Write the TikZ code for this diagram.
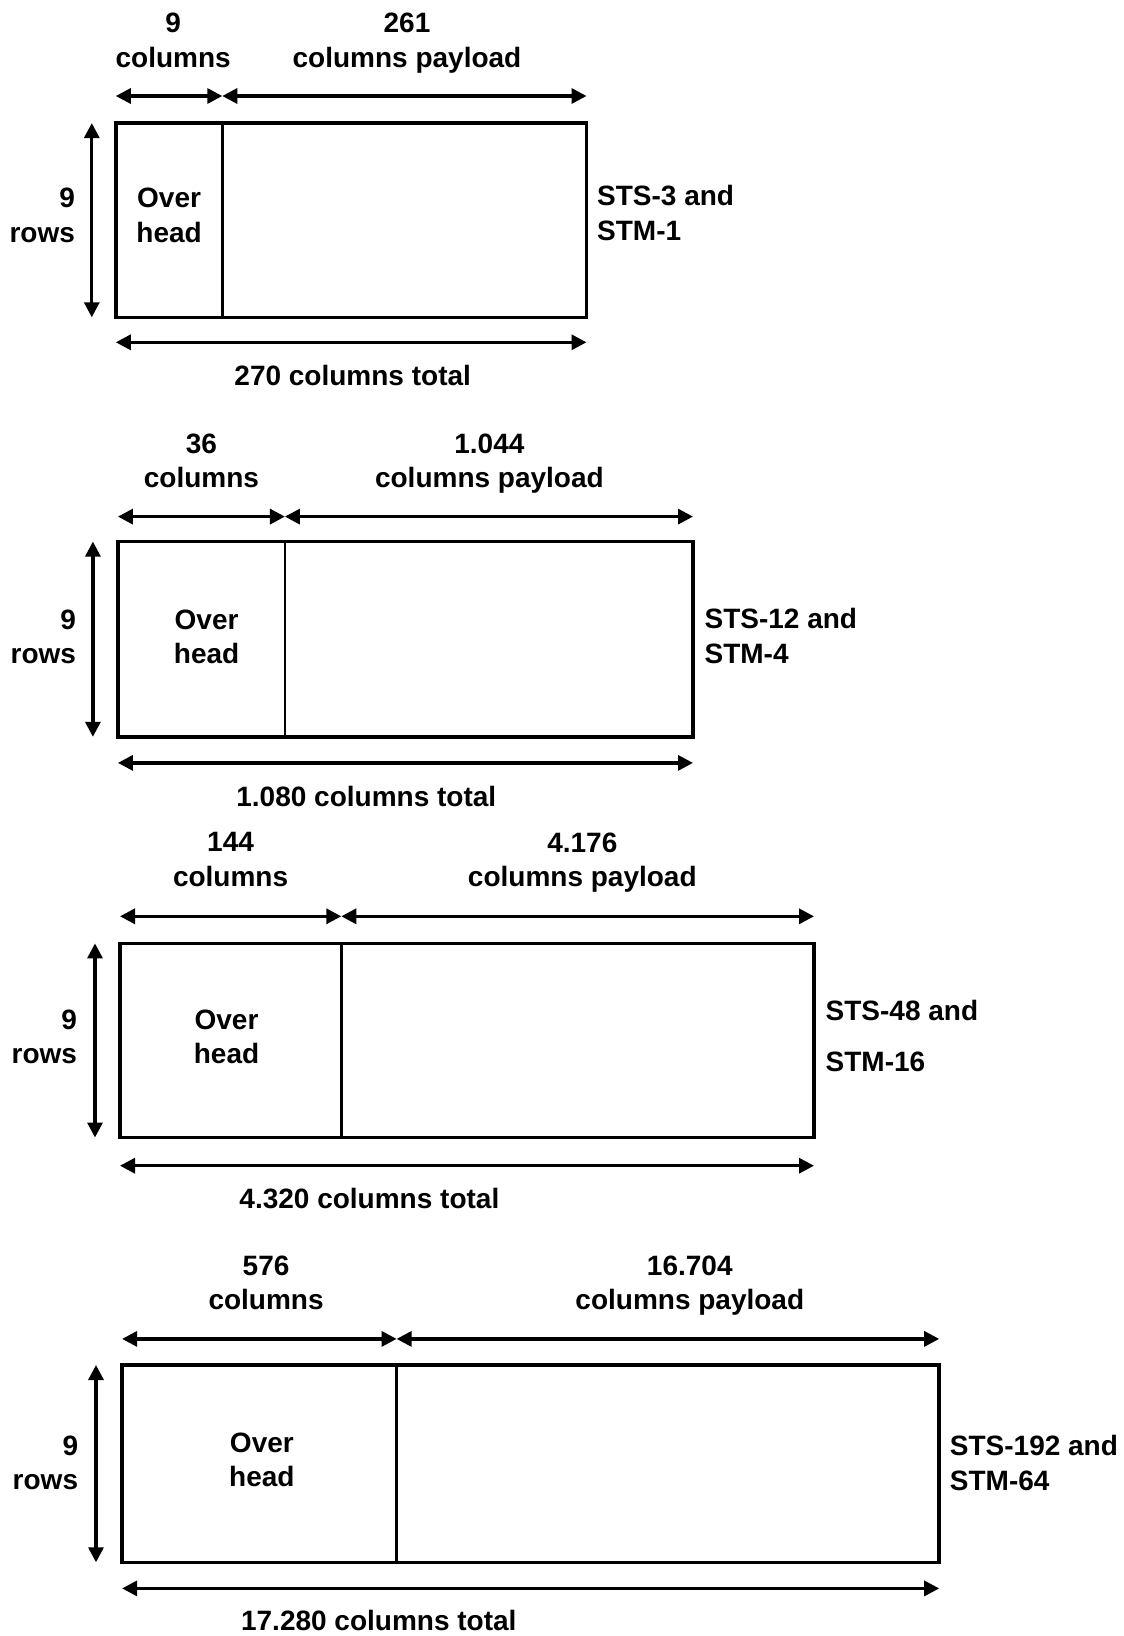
\documentclass[tikz,border=0pt]{standalone}
\usepackage{fontspec}
\setmainfont{Liberation Sans}
\usetikzlibrary{arrows.meta}
\begin{document}
\begin{tikzpicture}[x=1pt,y=-1pt,
  lbl/.style={font=\fontsize{28}{34.4}\selectfont\bfseries, inner sep=0pt, align=center},
  dimline/.style={line width=3.2pt, {Triangle[length=15pt,width=15pt]}-{Triangle[length=15pt,width=15pt]}},
  frame/.style={draw, line width=3.5pt},
  divider/.style={line width=2.6pt}]
\useasboundingbox[fill=white] (0,0) rectangle (1124,1636);

% ---------- Panel 1 ----------
\coordinate (a1) at (115.8,123.1);
\coordinate (c1) at (586.5,317.3);
\coordinate (d1t) at (222.3,123.1);
\coordinate (d1b) at (222.3,317.3);
\draw[frame] (a1) rectangle (c1);
\draw[divider] (d1t) -- (d1b);
\coordinate (t1l) at (115.8,96.0);
\coordinate (t1m) at (222.3,96.0);
\coordinate (t1r) at (586.5,96.0);
\draw[dimline] (t1l) -- (t1m);
\draw[dimline] (t1m) -- (t1r);
\coordinate (v1t) at (91.8,123.1);
\coordinate (v1b) at (91.8,317.3);
\draw[dimline] (v1t) -- (v1b);
\coordinate (h1l) at (115.8,342.3);
\coordinate (h1r) at (586.5,342.3);
\draw[dimline] (h1l) -- (h1r);
\node[lbl] (oc1) at (173.2,40.2) {9\\columns};
\node[lbl] (pc1) at (407.0,43.2) {261\\columns payload};
\node[lbl, align=right, anchor=east] (r1) at (75.1,215.5) {9\\rows};
\node[lbl] (oh1) at (169.1,215.5) {Over\\head};
\node[lbl, align=left, anchor=west] (s1) at (597.0,212.9) {STS-3 and\\STM-1};
\node[lbl] (tot1) at (352.7,375.7) {270 columns total};

% ---------- Panel 2 ----------
\coordinate (a2) at (117.9,541.6);
\coordinate (c2) at (693.0,736.8);
\coordinate (d2t) at (284.9,541.6);
\coordinate (d2b) at (284.9,736.8);
\draw[frame] (a2) rectangle (c2);
\draw[divider] (d2t) -- (d2b);
\coordinate (t2l) at (117.9,516.6);
\coordinate (t2m) at (284.9,516.6);
\coordinate (t2r) at (693.0,516.6);
\draw[dimline] (t2l) -- (t2m);
\draw[dimline] (t2m) -- (t2r);
\coordinate (v2t) at (92.9,541.6);
\coordinate (v2b) at (92.9,736.8);
\draw[dimline] (v2t) -- (v2b);
\coordinate (h2l) at (117.9,762.9);
\coordinate (h2r) at (693.0,762.9);
\draw[dimline] (h2l) -- (h2r);
\node[lbl] (oc2) at (201.4,460.7) {36\\columns};
\node[lbl] (pc2) at (489.4,463.7) {1.044\\columns payload};
\node[lbl, align=right, anchor=east] (r2) at (76.2,636.6) {9\\rows};
\node[lbl] (oh2) at (206.6,636.6) {Over\\head};
\node[lbl, align=left, anchor=west] (s2) at (704.4,636.1) {STS-12 and\\STM-4};
\node[lbl] (tot2) at (366.3,796.3) {1.080 columns total};

% ---------- Panel 3 ----------
\coordinate (a3) at (120.0,943.4);
\coordinate (c3) at (814.0,1137.5);
\coordinate (d3t) at (341.3,943.4);
\coordinate (d3b) at (341.3,1137.5);
\draw[frame] (a3) rectangle (c3);
\draw[divider] (d3t) -- (d3b);
\coordinate (t3l) at (120.0,916.3);
\coordinate (t3m) at (341.3,916.3);
\coordinate (t3r) at (814.0,916.3);
\draw[dimline] (t3l) -- (t3m);
\draw[dimline] (t3m) -- (t3r);
\coordinate (v3t) at (95.0,943.4);
\coordinate (v3b) at (95.0,1137.5);
\draw[dimline] (v3t) -- (v3b);
\coordinate (h3l) at (120.0,1165.7);
\coordinate (h3r) at (814.0,1165.7);
\draw[dimline] (h3l) -- (h3r);
\node[lbl] (oc3) at (230.6,859.4) {144\\columns};
\node[lbl] (pc3) at (582.3,862.4) {4.176\\columns payload};
\node[lbl, align=right, anchor=east] (r3) at (77.2,1036.8) {9\\rows};
\node[lbl] (oh3) at (226.5,1036.8) {Over\\head};
\node[lbl, align=left, anchor=west] (s3) at (825.5,1035.8) {STS-48 and\\[16.7pt]STM-16};
\node[lbl] (tot3) at (369.4,1198.1) {4.320 columns total};

% ---------- Panel 4 ----------
\coordinate (a4) at (122.1,1365.0);
\coordinate (c4) at (939.2,1562.3);
\coordinate (d4t) at (396.6,1365.0);
\coordinate (d4b) at (396.6,1562.3);
\draw[frame] (a4) rectangle (c4);
\draw[divider] (d4t) -- (d4b);
\coordinate (t4l) at (122.1,1338.9);
\coordinate (t4m) at (396.6,1338.9);
\coordinate (t4r) at (939.2,1338.9);
\draw[dimline] (t4l) -- (t4m);
\draw[dimline] (t4m) -- (t4r);
\coordinate (v4t) at (96.0,1365.0);
\coordinate (v4b) at (96.0,1562.3);
\draw[dimline] (v4t) -- (v4b);
\coordinate (h4l) at (122.1,1588.4);
\coordinate (h4r) at (939.2,1588.4);
\draw[dimline] (h4l) -- (h4r);
\node[lbl] (oc4) at (266.1,1282.6) {576\\columns};
\node[lbl] (pc4) at (689.8,1285.6) {16.704\\columns payload};
\node[lbl, align=right, anchor=east] (r4) at (78.3,1463.1) {9\\rows};
\node[lbl] (oh4) at (261.9,1460.0) {Over\\head};
\node[lbl, align=left, anchor=west] (s4) at (949.7,1463.1) {STS-192 and\\STM-64};
\node[lbl] (tot4) at (378.8,1620.7) {17.280 columns total};
\end{tikzpicture}
\end{document}
